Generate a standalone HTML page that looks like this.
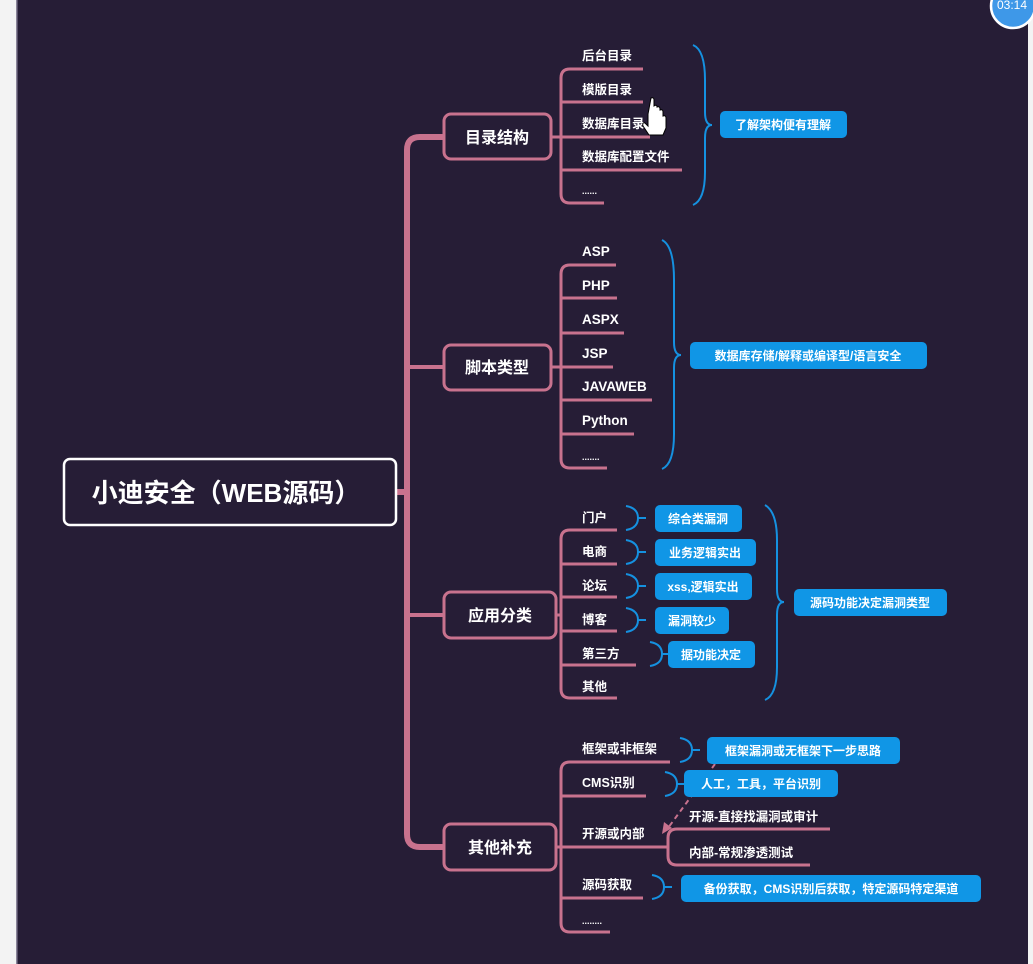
<!DOCTYPE html>
<html><head><meta charset="utf-8"><style>
html,body{margin:0;padding:0;width:1033px;height:964px;overflow:hidden;background:#f3f3f3;}
svg{display:block;}
text{font-family:"Liberation Sans","Noto Sans CJK SC",sans-serif;font-weight:bold;fill:#fff;}
</style></head><body>
<svg width="1033" height="964" viewBox="0 0 1033 964" xmlns="http://www.w3.org/2000/svg">
<rect x="0" y="0" width="1033" height="964" fill="#f3f3f3"/>
<rect x="16" y="0" width="1012" height="964" fill="#261d36"/>
<rect x="16" y="0" width="1.5" height="964" fill="#8a8499"/>

<g fill="none" stroke="#c8728e" stroke-linecap="butt">
<path d="M443 137 H420 Q407 137 407 150 V834 Q407 847 420 847 H444" stroke-width="6"/>
<path d="M396 492 H407" stroke-width="6"/>
<path d="M407 367 H443 M407 615 H444" stroke-width="4"/>
<g stroke-width="3">
<path d="M551 137 H561"/>
<path d="M643 69 H570 Q561 69 561 78 V194 Q561 203 570 203 H604"/>
<path d="M561 102 H643 M561 137 H650 M561 170 H682"/>
<path d="M551 367 H561"/>
<path d="M616 265 H570 Q561 265 561 274 V459 Q561 468 570 468 H607"/>
<path d="M561 298 H617 M561 333 H624 M561 367 H613 M561 400 H652 M561 434 H634"/>
<path d="M556 615 H561"/>
<path d="M617 530 H570 Q561 530 561 539 V689 Q561 698 570 698 H617"/>
<path d="M561 564 H617 M561 597 H617 M561 631 H617 M561 665 H636"/>
<path d="M670 762 H570 Q561 762 561 771 V923 Q561 932 570 932 H610"/>
<path d="M556 847 H668 M561 796 H646 M561 898 H643"/>
<path d="M830 829 H677 Q668 829 668 838 V856 Q668 865 677 865 H810"/>
</g>
</g>

<path d="M715 764 L668 828" stroke="#c8728e" stroke-width="2" stroke-dasharray="5,4" fill="none"/>
<path d="M662 834 L664 822 L672 828 Z" fill="#c8728e"/>

<rect x="64" y="459" width="332" height="66" rx="6" fill="#261d36" stroke="#fff" stroke-width="2.5"/>
<text x="226" y="502" font-size="26" text-anchor="middle">小迪安全（WEB源码）</text>
<g fill="#261d36" stroke="#c8728e" stroke-width="3">
<rect x="444" y="114" width="107" height="45" rx="7"/>
<rect x="444" y="345" width="107" height="45" rx="7"/>
<rect x="444" y="592" width="112" height="46" rx="7"/>
<rect x="444" y="824" width="112" height="46" rx="7"/>
</g>
<g font-size="16" text-anchor="middle">
<text x="497" y="143">目录结构</text>
<text x="497" y="373">脚本类型</text>
<text x="500" y="621">应用分类</text>
<text x="500" y="853">其他补充</text>
</g>

<g font-size="12.5">
<text x="582" y="60">后台目录</text>
<text x="582" y="94">模版目录</text>
<text x="582" y="128">数据库目录</text>
<text x="582" y="161">数据库配置文件</text>
<text x="582" y="194" font-size="9">......</text>
<text x="582" y="256" font-size="13.5">ASP</text>
<text x="582" y="290" font-size="13.5">PHP</text>
<text x="582" y="324" font-size="13.5">ASPX</text>
<text x="582" y="358" font-size="13.5">JSP</text>
<text x="582" y="391" font-size="13.5">JAVAWEB</text>
<text x="582" y="425" font-size="13.5">Python</text>
<text x="582" y="460" font-size="9">.......</text>
<text x="582" y="522">门户</text>
<text x="582" y="556">电商</text>
<text x="582" y="590">论坛</text>
<text x="582" y="624">博客</text>
<text x="582" y="658">第三方</text>
<text x="582" y="691">其他</text>
<text x="582" y="753">框架或非框架</text>
<text x="582" y="787">CMS识别</text>
<text x="582" y="838">开源或内部</text>
<text x="582" y="889">源码获取</text>
<text x="582" y="924" font-size="9">........</text>
<text x="689" y="821">开源-直接找漏洞或审计</text>
<text x="689" y="857">内部-常规渗透测试</text>
</g>

<g fill="none" stroke="#1591e0" stroke-width="2">
<path d="M693 45 Q705 50 705 80 V112 Q705 125 712 125 Q705 125 705 138 V172 Q705 200 693 205"/>
<path d="M662 240 Q674 246 674 280 V342 Q674 355 681 355 Q674 355 674 368 V434 Q674 464 662 469"/>
<path d="M765 505 Q777 512 777 540 V589 Q777 602 784 602 Q777 602 777 615 V667 Q777 695 765 700"/>
<path d="M626 506 Q638 508 638 518 Q638 528 626 530 M638 518 H646"/>
<path d="M626 540 Q638 542 638 552 Q638 562 626 564 M638 552 H646"/>
<path d="M626 574 Q638 576 638 586 Q638 596 626 598 M638 586 H646"/>
<path d="M626 608 Q638 610 638 620 Q638 630 626 632 M638 620 H646"/>
<path d="M650 642 Q662 644 662 654 Q662 664 650 666 M662 654 H670"/>
<path d="M680 738 Q692 740 692 750 Q692 760 680 762 M692 750 H700"/>
<path d="M665 772 Q677 774 677 784 Q677 794 665 796 M677 784 H685"/>
<path d="M652 875 Q664 877 664 887 Q664 897 652 899 M664 887 H672"/>
</g>
<g fill="#1096e6">
<rect x="720" y="111" width="127" height="27" rx="5"/>
<rect x="690" y="342" width="237" height="27" rx="5"/>
<rect x="655" y="505" width="87" height="27" rx="5"/>
<rect x="655" y="539" width="101" height="27" rx="5"/>
<rect x="655" y="573" width="97" height="27" rx="5"/>
<rect x="655" y="607" width="74" height="27" rx="5"/>
<rect x="668" y="641" width="87" height="27" rx="5"/>
<rect x="794" y="589" width="153" height="27" rx="5"/>
<rect x="707" y="737" width="193" height="27" rx="5"/>
<rect x="684" y="770" width="154" height="27" rx="5"/>
<rect x="681" y="875" width="300" height="27" rx="5"/>
</g>
<g font-size="12" text-anchor="middle">
<text x="783" y="129">了解架构便有理解</text>
<text x="808" y="360">数据库存储/解释或编译型/语言安全</text>
<text x="698" y="523">综合类漏洞</text>
<text x="705" y="557">业务逻辑实出</text>
<text x="703" y="591">xss,逻辑实出</text>
<text x="692" y="625">漏洞较少</text>
<text x="711" y="659">据功能决定</text>
<text x="870" y="607">源码功能决定漏洞类型</text>
<text x="803" y="755">框架漏洞或无框架下一步思路</text>
<text x="761" y="788">人工，工具，平台识别</text>
<text x="831" y="893">备份获取，CMS识别后获取，特定源码特定渠道</text>
</g>

<path d="M648 114 v12 l-3 -3 q-3 -1 -2 3 l6 9 h14 l3 -7 v-10 q0 -3 -3 -2 v-4 q0 -3 -3 -2 v-1 q0 -3 -3 -2 q0 -3 -3 -1 v-6 q0 -3 -3 -2 z" fill="#fff" stroke="#000" stroke-width="1"/>

<rect x="1028" y="0" width="5" height="964" fill="#f3f3f3"/>
<circle cx="1013" cy="6" r="22" fill="#3e98e8" stroke="#fff" stroke-width="2.5"/>
<text x="997" y="9" font-size="12" style="font-weight:normal">03:14</text>
</svg>
</body></html>
